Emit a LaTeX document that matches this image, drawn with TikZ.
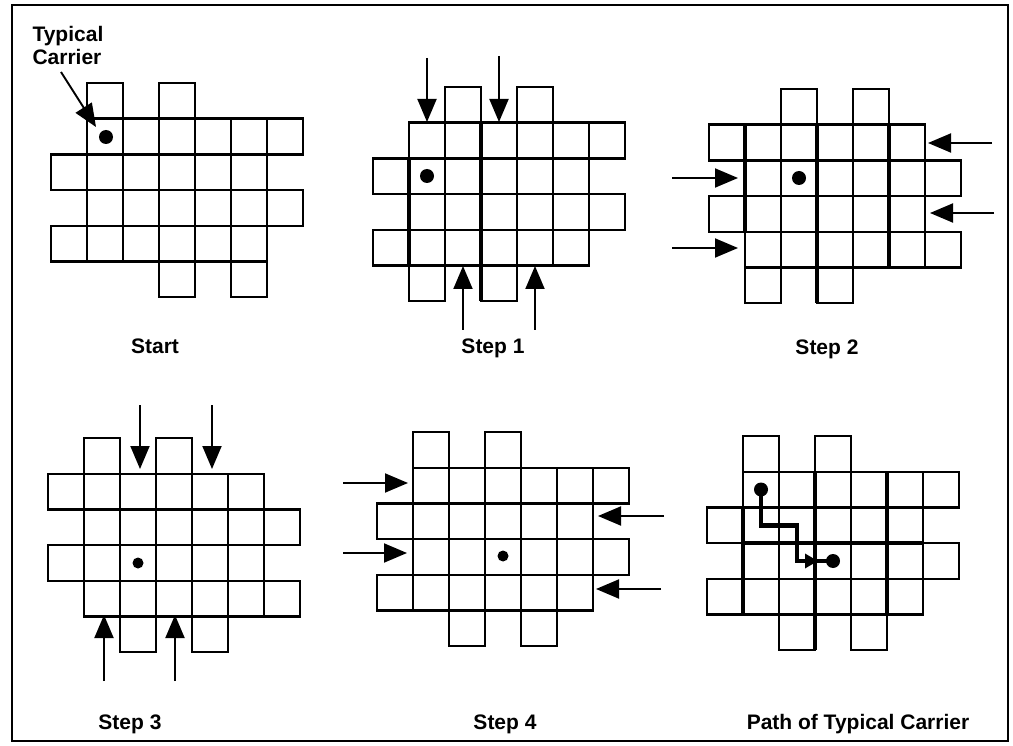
\documentclass[tikz,border=0pt]{standalone}
\usepackage{fontspec}
\setmainfont{Liberation Sans}
\usepackage{tikz}
\usetikzlibrary{arrows.meta}

\newcommand{\cw}{36}
\newcommand{\ch}{35.7}
% grid of cells: #1,#2 corner, #3 top cells, #4 offset rows 1/3, #5 offset rows 2/4, #6 bottom cells
\newcommand{\cellgrid}[6]{
	\begin{scope}[shift={(#1,#2)}]
		\foreach \col in {#3} \draw[cell] (\col*\cw,0) rectangle ++(\cw,\ch);
		\foreach \rw in {1,3} \foreach \col in {0,...,5} \draw[cell] ({(\col+#4)*\cw},\rw*\ch) rectangle ++(\cw,\ch);
		\foreach \rw in {2,4} \foreach \col in {0,...,5} \draw[cell] ({(\col+#5)*\cw},\rw*\ch) rectangle ++(\cw,\ch);
		\foreach \col in {#6} \draw[cell] (\col*\cw,5*\ch) rectangle ++(\cw,\ch);
	\end{scope}}

\begin{document}
\begin{tikzpicture}[x=1pt,y=-1pt]
\tikzstyle{cell} = [draw, line width = 2.4pt, line join = miter]
\tikzstyle{shear} = [line width = 4.6pt]
\tikzstyle{carrier} = [circle, fill, inner sep = 0pt, minimum size = 14pt]
\tikzstyle{push} = [line width = 1.9pt, -{Triangle[length = 23pt, width = 19pt]}]
\tikzstyle{track} = [line width = 4.5pt, line join = miter]
\tikzstyle{caption} = [font = \fontsize{21}{23}\selectfont\bfseries]
\useasboundingbox (0,0) rectangle (1013,746);
\draw[line width = 2pt] (12,5) rectangle (1008,741);

% Start
\cellgrid{51}{83}{1,3}{1}{0}{3,5}
\node[carrier] (c0) at (106,137) {};
\node[caption, align = left, anchor = north west] (tc) at (29,23) {Typical\\Carrier};
\coordinate (tcfrom) at (61,72);
\coordinate (tcto) at (96,127);
\draw[push] (tcfrom) -- (tcto);
\node[caption, anchor = base] (l0) at (155,353) {Start};

% Step 1
\cellgrid{373}{87}{2,4}{1}{0}{1,3}
\draw[shear] (409,158.4) -- (409,265.5);
\draw[shear] (481,122.7) -- (481,301.2);
\node[carrier] (c1) at (427,176) {};
\coordinate (s1a) at (427,58);	\coordinate (s1b) at (427,122);
\coordinate (s1c) at (499,56);	\coordinate (s1d) at (499,122);
\coordinate (s1e) at (463,330);	\coordinate (s1f) at (463,266);
\coordinate (s1g) at (535,330);	\coordinate (s1h) at (535,266);
\draw[push] (s1a) -- (s1b);
\draw[push] (s1c) -- (s1d);
\draw[push] (s1e) -- (s1f);
\draw[push] (s1g) -- (s1h);
\node[caption, anchor = base] (l1) at (493,353) {Step 1};

% Step 2
\cellgrid{709}{89}{2,4}{0}{1}{1,3}
\draw[shear] (745,124.7) -- (745,231.8);
\draw[shear] (817,124.7) -- (817,303.2);
\draw[shear] (889,124.7) -- (889,267.5);
\node[carrier] (c2) at (799,178) {};
\coordinate (s2a) at (672,178);	\coordinate (s2b) at (738,178);
\coordinate (s2c) at (672,248);	\coordinate (s2d) at (738,248);
\coordinate (s2e) at (992,143);	\coordinate (s2f) at (928,143);
\coordinate (s2g) at (994,213);	\coordinate (s2h) at (930,213);
\draw[push] (s2a) -- (s2b);
\draw[push] (s2c) -- (s2d);
\draw[push] (s2e) -- (s2f);
\draw[push] (s2g) -- (s2h);
\node[caption, anchor = base] (l2) at (827,355) {Step 2};

% Step 3
\cellgrid{48}{438}{1,3}{0}{1}{2,4}
\node[carrier, minimum size = 11pt] (c3) at (138,563) {};
\coordinate (s3a) at (140,405);	\coordinate (s3b) at (140,469);
\coordinate (s3c) at (212,405);	\coordinate (s3d) at (212,469);
\coordinate (s3e) at (104,681);	\coordinate (s3f) at (104,615);
\coordinate (s3g) at (175,681);	\coordinate (s3h) at (175,615);
\draw[push] (s3a) -- (s3b);
\draw[push] (s3c) -- (s3d);
\draw[push] (s3e) -- (s3f);
\draw[push] (s3g) -- (s3h);
\node[caption, anchor = base] (l3) at (130,729) {Step 3};

% Step 4
\cellgrid{377}{432}{1,3}{1}{0}{2,4}
\node[carrier, minimum size = 11pt] (c4) at (503,556) {};
\coordinate (s4a) at (343,483);	\coordinate (s4b) at (408,483);
\coordinate (s4c) at (343,553);	\coordinate (s4d) at (407,553);
\coordinate (s4e) at (664,516);	\coordinate (s4f) at (598,516);
\coordinate (s4g) at (661,589);	\coordinate (s4h) at (596,589);
\draw[push] (s4a) -- (s4b);
\draw[push] (s4c) -- (s4d);
\draw[push] (s4e) -- (s4f);
\draw[push] (s4g) -- (s4h);
\node[caption, anchor = base] (l4) at (505,729) {Step 4};

% Path of Typical Carrier
\cellgrid{707}{436}{1,3}{1}{0}{2,4}
\draw[shear] (743,507.4) -- (743,614.5);
\draw[shear] (815,471.7) -- (815,650.2);
\draw[shear] (887,471.7) -- (887,614.5);
\draw[shear] (743,543.1) -- (923,543.1);
\node[carrier] (p0) at (761,489.5) {};
\node[carrier] (p1) at (833,561) {};
\coordinate (k1) at (797,525.5);
\coordinate (k2) at (797,561);
\coordinate (k3) at (818,561);
\draw[track] (p0.center) |- (k1) |- (p1.center);
\draw[track, -{Triangle[length = 13pt, width = 14pt]}] (k2) -- (k3);
\node[caption, anchor = base] (l5) at (858,729) {Path of Typical Carrier};

\end{tikzpicture}
\end{document}
